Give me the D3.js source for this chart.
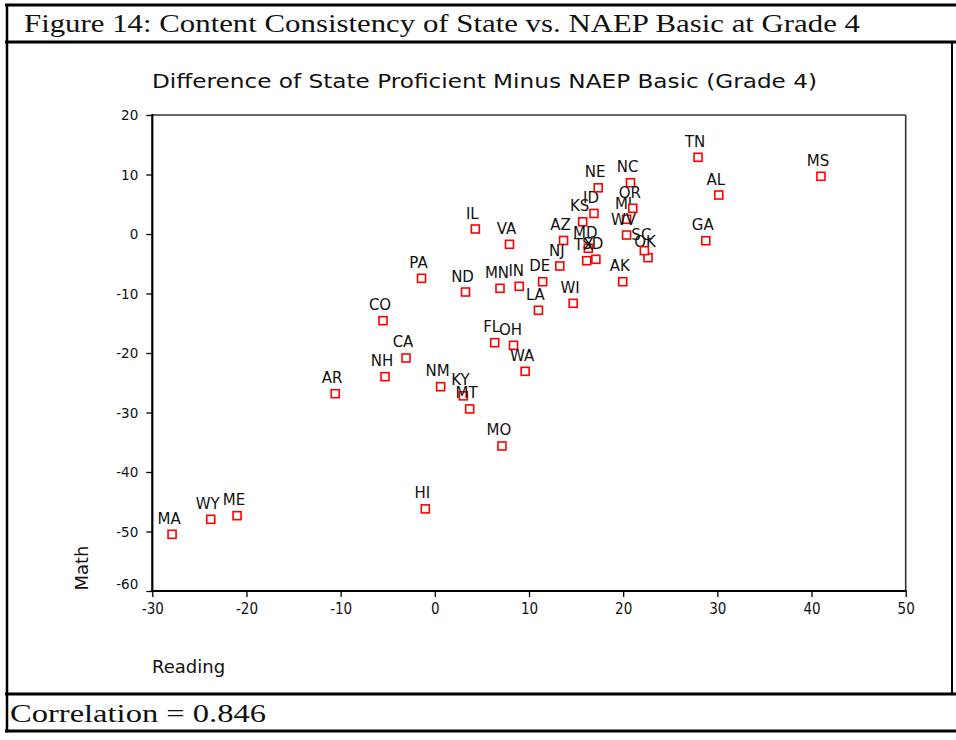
<!DOCTYPE html>
<html>
<head>
<meta charset="utf-8">
<script src="https://cdn.jsdelivr.net/npm/d3@7"></script>
<style>
  body { margin: 0; background: #fff; }
  svg { display: block; }
  .tick text { fill: #111; }
</style>
</head>
<body>
<div id="chart"></div>
<script>
// state codes with reading (x) and math (y) differences
var states = ["AL","AK","AZ","AR","CA","CO","DE","FL","GA","HI","ID","IL","IN","KS","KY",
  "LA","ME","MD","MA","MI","MN","MS","MO","MT","NE","NH","NJ","NM","NC","ND","OH","OK",
  "OR","PA","SC","SD","TN","TX","VA","WA","WV","WI","WY"];
var reading = [30.15, 19.95, 13.67, -10.58, -3.06, -5.5, 11.45, 6.36, 28.77, -1.01, 16.9, 4.3, 8.96, 15.7, 3.03,
  11.0, -21.0, 16.3, -27.9, 20.36, 6.92, 41.0, 7.13, 3.7, 17.35, -5.29, 13.27, 0.62, 20.78, 3.26, 8.36, 22.64,
  21.02, -1.41, 22.25, 17.1, 27.95, 16.13, 7.93, 9.59, 20.36, 14.69, -23.8];
var math = [6.55, -8.02, -1.09, -26.84, -20.84, -14.57, -8.02, -18.27, -1.13, -46.2, 3.45, 0.84, -8.79, 2.05, -27.2,
  -12.82, -47.34, -2.4, -50.47, 2.47, -9.13, 9.7, -35.63, -29.4, 7.76, -23.98, -5.38, -25.66, 8.62, -9.75, -18.71, -3.98,
  4.32, -7.45, -2.8, -4.25, 12.89, -4.49, -1.73, -23.08, -0.17, -11.65, -47.95];

var xTicks = [-30, -20, -10, 0, 10, 20, 30, 40, 50];
var yTicks = [20, 10, 0, -10, -20, -30, -40, -50, -60];

var figTitle = "Figure 14: Content Consistency of State vs. NAEP Basic at Grade 4";
var chartTitle = "Difference of State Proficient Minus NAEP Basic (Grade 4)";
var xLabel = "Reading";
var yLabel = "Math";
var footNote = "Correlation = 0.846";

var width = 956;
var height = 740;

var svg = d3.select("#chart").append("svg")
  .attr("width", width)
  .attr("height", height);

var serif = "'Liberation Serif', 'DejaVu Serif', serif";
var sans = "'DejaVu Sans', Verdana, sans-serif";

// outer figure box
[5, 42, 694, 731].forEach(function(yy) {
  svg.append("line")
    .attr("x1", 5).attr("x2", width)
    .attr("y1", yy).attr("y2", yy)
    .attr("stroke", "#000").attr("stroke-width", 3);
});
svg.append("line")
  .attr("x1", 7).attr("x2", 7)
  .attr("y1", 4).attr("y2", 732.5)
  .attr("stroke", "#000").attr("stroke-width", 2.5);
svg.append("line")
  .attr("x1", 952).attr("x2", 952)
  .attr("y1", 42).attr("y2", 694)
  .attr("stroke", "#000").attr("stroke-width", 2);

svg.append("text")
  .attr("x", 24).attr("y", 32)
  .attr("font-family", serif)
  .attr("font-size", 26)
  .attr("textLength", 836)
  .attr("lengthAdjust", "spacingAndGlyphs")
  .attr("fill", "#111")
  .text(figTitle);

svg.append("text")
  .attr("x", 10).attr("y", 722)
  .attr("font-family", serif)
  .attr("font-size", 26)
  .attr("textLength", 256)
  .attr("lengthAdjust", "spacingAndGlyphs")
  .attr("fill", "#111")
  .text(footNote);

// plot area
var x = d3.scaleLinear().domain([-30, 50]).range([152.3, 905.7]);
var y = d3.scaleLinear().domain([-60, 20]).range([591, 115]);

svg.append("text")
  .attr("x", 152).attr("y", 88)
  .attr("font-family", sans)
  .attr("font-size", 20)
  .attr("textLength", 665)
  .attr("lengthAdjust", "spacingAndGlyphs")
  .attr("fill", "#111")
  .text(chartTitle);

// top/right frame lines
svg.append("line")
  .attr("x1", x(-30)).attr("x2", x(50))
  .attr("y1", y(20)).attr("y2", y(20))
  .attr("stroke", "#333").attr("stroke-width", 1.6);
svg.append("line")
  .attr("x1", x(50)).attr("x2", x(50))
  .attr("y1", y(20)).attr("y2", y(-60))
  .attr("stroke", "#333").attr("stroke-width", 1.6);

var plain = function(d) { return String(d); };

var yAxis = d3.axisLeft(y).tickValues(yTicks).tickSize(6).tickPadding(8)
  .tickFormat(plain);
var gy = svg.append("g")
  .attr("transform", "translate(" + x(-30) + ",0)")
  .call(yAxis);
gy.select(".domain").remove();
gy.selectAll(".tick line").attr("stroke", "#000").attr("stroke-width", 1.3);
gy.selectAll(".tick text")
  .attr("font-family", sans)
  .attr("font-size", 13.5)
  .attr("dy", function(d) { return d === -60 ? "-0.15em" : "0.36em"; });

var xAxis = d3.axisBottom(x).tickValues(xTicks).tickSize(6).tickPadding(6)
  .tickFormat(plain);
var gx = svg.append("g")
  .attr("transform", "translate(0," + y(-60) + ")")
  .call(xAxis);
gx.select(".domain").remove();
gx.selectAll(".tick line").attr("stroke", "#000").attr("stroke-width", 1.3);
gx.selectAll(".tick text")
  .attr("font-family", "'DejaVu Sans Condensed', 'Liberation Sans Narrow', sans-serif")
  .attr("font-stretch", "condensed")
  .attr("font-size", 15);

// bold left and bottom axis lines
svg.append("line")
  .attr("x1", x(-30)).attr("x2", x(-30))
  .attr("y1", y(20) - 1).attr("y2", y(-60) + 1)
  .attr("stroke", "#000").attr("stroke-width", 2.2);
svg.append("line")
  .attr("x1", x(-30) - 1).attr("x2", x(50) + 1)
  .attr("y1", y(-60)).attr("y2", y(-60))
  .attr("stroke", "#000").attr("stroke-width", 2.2);

svg.append("text")
  .attr("x", 152).attr("y", 673)
  .attr("font-family", sans)
  .attr("font-size", 18)
  .attr("fill", "#111")
  .text(xLabel);

svg.append("text")
  .attr("transform", "translate(88,568)rotate(-90)")
  .attr("text-anchor", "middle")
  .attr("font-family", sans)
  .attr("font-size", 18)
  .attr("fill", "#111")
  .text(yLabel);

// points
var pts = states.map(function(s, i) {
  return { abbr: s, r: reading[i], m: math[i] };
});

var dots = svg.append("g").selectAll("g").data(pts).enter().append("g");

dots.append("rect")
  .attr("x", function(d) { return x(d.r) - 4; })
  .attr("y", function(d) { return y(d.m) - 4; })
  .attr("width", 8)
  .attr("height", 8)
  .attr("fill", "#fff")
  .attr("stroke", "#f00")
  .attr("stroke-width", 1.6);

dots.append("text")
  .attr("x", function(d) { return x(d.r) - 3; })
  .attr("y", function(d) { return y(d.m) - 10.5; })
  .attr("text-anchor", "middle")
  .attr("font-family", sans)
  .attr("font-size", 15)
  .attr("fill", "#111")
  .text(function(d) { return d.abbr; });
</script>
</body>
</html>
